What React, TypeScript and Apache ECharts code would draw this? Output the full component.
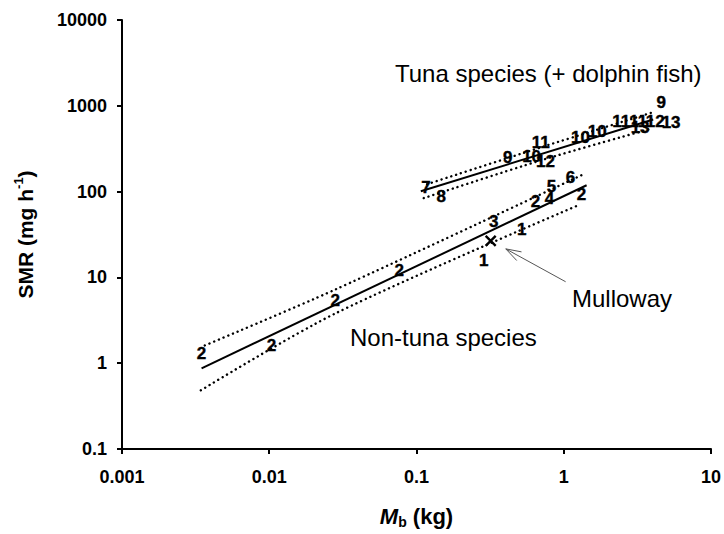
import React, { useEffect, useRef } from 'react';
import * as echarts from 'echarts';

const FONT = '"Liberation Sans", Arial, Helvetica, sans-serif';

const xTickLabels = ['0.001', '0.01', '0.1', '1', '10'];
const yTickLabels = ['0.1', '1', '10', '100', '1000', '10000'];

// Non-tuna species (numbers identify the source study)
const nonTunaLabels = ['2', '2', '2', '2', '3', '1', '1', '2', '4', '5', '6', '2'];
const nonTunaMass = [0.00347, 0.01035, 0.0281, 0.0762, 0.335, 0.286, 0.518, 0.644, 0.8, 0.826, 1.11, 1.32];
const nonTunaSMR = [1.3, 1.61, 5.36, 11.9, 45.4, 15.6, 36.6, 77, 84, 116, 147, 93];

// Tuna species (+ dolphin fish)
const tunaLabels = ['7', '8', '9', '10', '11', '12', '10', '10', '11', '11', '13', '12', '13', '9'];
const tunaMass = [0.116, 0.147, 0.416, 0.605, 0.697, 0.752, 1.3, 1.69, 2.46, 3.21, 3.3, 4.18, 5.36, 4.59];
const tunaSMR = [112, 88, 251, 258, 374, 226, 428, 502, 656, 656, 558, 656, 638, 1089];

// Mulloway (this study)
const mullowayMass = [0.319];
const mullowaySMR = [26.6];

// Regression lines and prediction bands
const nonTunaFitMass = [0.00347, 1.43];
const nonTunaFitSMR = [0.871, 118.6];
const nonTunaUpperMass = [0.00365, 0.028, 1.36];
const nonTunaUpperSMR = [1.61, 7.2, 159];
const nonTunaLowerMass = [0.00343, 0.028, 1.26];
const nonTunaLowerSMR = [0.483, 3.79, 69.5];

const tunaFitMass = [0.107, 4.05];
const tunaFitSMR = [101, 692];
const tunaUpperMass = [0.118, 0.697, 4.18];
const tunaUpperSMR = [122, 327, 857];
const tunaLowerMass = [0.112, 0.697, 3.75];
const tunaLowerSMR = [84, 231, 530];

// Mulloway arrow (tail, tip) in data units
const arrowTail = [1.03, 8.9];
const arrowTip = [0.404, 21.5];

const zip = (xs: number[], ys: number[]) => xs.map((x, i) => [x, ys[i]]);

const labelSeries = (name: string, xs: number[], ys: number[], labels: string[]) => ({
  name,
  type: 'custom',
  z: 5,
  data: xs.map((x, i) => [x, ys[i], i]),
  renderItem: (params: any, api: any) => {
    const p = api.coord([api.value(0), api.value(1)]);
    const idx = api.value(2);
    return {
      type: 'text',
      x: p[0],
      y: p[1],
      style: {
        text: labels[idx],
        fill: '#000',
        fontSize: 17,
        fontWeight: 'bold',
        fontFamily: FONT,
        align: 'center',
        verticalAlign: 'middle',
        stroke: '#000',
        lineWidth: 0.4,
      },
    };
  },
});

const lineSeries = (name: string, xs: number[], ys: number[], dotted: boolean) => ({
  name,
  type: 'line',
  symbol: 'none',
  smooth: dotted ? 0.3 : false,
  lineStyle: dotted
    ? { color: '#000', width: 2.4, type: [0.1, 5], cap: 'round' }
    : { color: '#000', width: 2 },
  z: 3,
  data: zip(xs, ys),
});

export default function App() {
  const ref = useRef<HTMLDivElement>(null);

  useEffect(() => {
    if (!ref.current) return;
    document.body.style.margin = '0';
    const chart = echarts.init(ref.current, null, { renderer: 'svg' });

    const axisCommon = {
      type: 'log',
      logBase: 10,
      splitLine: { show: false },
      minorTick: { show: false },
      axisLine: { show: true, lineStyle: { color: '#000', width: 2 } },
      axisTick: { show: true, length: 5, lineStyle: { color: '#000', width: 2 } },
    };

    chart.setOption({
      animation: false,
      backgroundColor: '#fff',
      grid: { left: 122, right: 11, top: 20, bottom: 83, containLabel: false },
      xAxis: {
        ...axisCommon,
        min: 0.001,
        max: 10,
        splitNumber: 4,
        axisLabel: {
          color: '#000',
          fontSize: 18,
          fontWeight: 'bold',
          fontFamily: FONT,
          margin: 19,
          formatter: (v: number) => xTickLabels[Math.round(Math.log10(v)) + 3],
        },
        name: '{m|M}{b|b}{a| (kg)}',
        nameLocation: 'middle',
        nameGap: 54,
        nameTextStyle: {
          rich: {
            m: { fontSize: 22, fontWeight: 'bold', fontStyle: 'italic', fontFamily: FONT, color: '#000', lineHeight: 26 },
            b: { fontSize: 14, fontWeight: 'bold', fontFamily: FONT, color: '#000', verticalAlign: 'bottom', lineHeight: 14 },
            a: { fontSize: 22, fontWeight: 'bold', fontFamily: FONT, color: '#000', lineHeight: 26 },
          },
        },
      },
      yAxis: {
        ...axisCommon,
        min: 0.1,
        max: 10000,
        splitNumber: 6,
        axisLabel: {
          color: '#000',
          fontSize: 18,
          fontWeight: 'bold',
          fontFamily: FONT,
          margin: 15,
          formatter: (v: number) => yTickLabels[Math.round(Math.log10(v)) + 1],
        },
        name: '{a|SMR (mg h}{s|-1}{a|)}',
        nameLocation: 'middle',
        nameGap: 84,
        nameTextStyle: {
          rich: {
            a: { fontSize: 21, fontWeight: 'bold', fontFamily: FONT, color: '#000', lineHeight: 26 },
            s: { fontSize: 13, fontWeight: 'bold', fontFamily: FONT, color: '#000', verticalAlign: 'top', lineHeight: 14 },
          },
        },
      },
      series: [
        lineSeries('Non-tuna fit', nonTunaFitMass, nonTunaFitSMR, false),
        lineSeries('Non-tuna upper', nonTunaUpperMass, nonTunaUpperSMR, true),
        lineSeries('Non-tuna lower', nonTunaLowerMass, nonTunaLowerSMR, true),
        lineSeries('Tuna fit', tunaFitMass, tunaFitSMR, false),
        lineSeries('Tuna upper', tunaUpperMass, tunaUpperSMR, true),
        lineSeries('Tuna lower', tunaLowerMass, tunaLowerSMR, true),
        labelSeries('Non-tuna species', nonTunaMass, nonTunaSMR, nonTunaLabels),
        labelSeries('Tuna species', tunaMass, tunaSMR, tunaLabels),
        {
          name: 'Mulloway',
          type: 'scatter',
          symbol: 'path://M0,0L10,10M10,0L0,10',
          symbolSize: 10,
          itemStyle: { color: 'none', borderColor: '#000', borderWidth: 2.4, opacity: 1 },
          z: 5,
          data: zip(mullowayMass, mullowaySMR),
        },
      ],
    });

    const tail = chart.convertToPixel({ gridIndex: 0 }, arrowTail) as number[];
    const tip = chart.convertToPixel({ gridIndex: 0 }, arrowTip) as number[];
    const dx = tail[0] - tip[0];
    const dy = tail[1] - tip[1];
    const len = Math.hypot(dx, dy);
    const ux = dx / len;
    const uy = dy / len;
    const headLen = 16;
    const ang = (18 * Math.PI) / 180;
    const rot = (a: number) => [
      tip[0] + headLen * (ux * Math.cos(a) - uy * Math.sin(a)),
      tip[1] + headLen * (ux * Math.sin(a) + uy * Math.cos(a)),
    ];
    const arrowStyle = { stroke: '#555', lineWidth: 1, fill: null };

    chart.setOption({
      graphic: [
        {
          type: 'text',
          left: 395,
          top: 61,
          style: { text: 'Tuna species (+ dolphin fish)', fontSize: 24, fontFamily: FONT, fill: '#000' },
        },
        {
          type: 'text',
          left: 350,
          top: 325,
          style: { text: 'Non-tuna species', fontSize: 24, fontFamily: FONT, fill: '#000' },
        },
        {
          type: 'text',
          left: 572,
          top: 286,
          style: { text: 'Mulloway', fontSize: 24, fontFamily: FONT, fill: '#000' },
        },
        {
          type: 'line',
          shape: { x1: tail[0], y1: tail[1], x2: tip[0], y2: tip[1] },
          style: arrowStyle,
        },
        {
          type: 'polyline',
          shape: { points: [rot(ang), tip, rot(-ang)] },
          style: arrowStyle,
        },
      ],
    });

    return () => chart.dispose();
  }, []);

  return <div ref={ref} style={{ width: 724, height: 534 }} />;
}
